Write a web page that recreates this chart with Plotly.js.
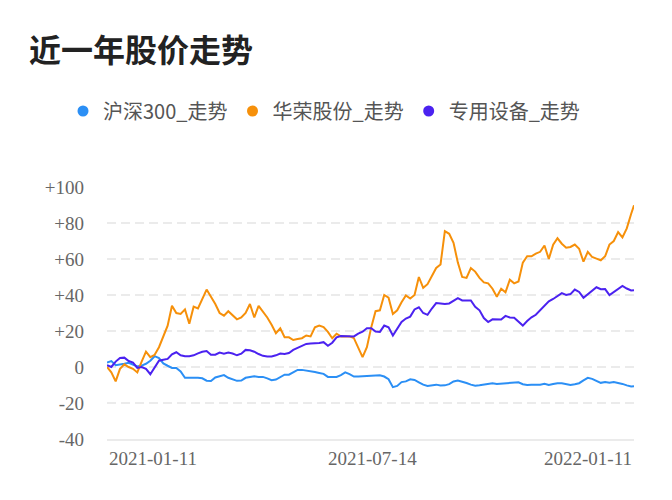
<!DOCTYPE html>
<html>
<head>
<meta charset="utf-8">
<script src="https://cdn.plot.ly/plotly-3.0.1.min.js"></script>
<style>
  html, body { margin: 0; padding: 0; background: #fff; }
  #chart { width: 672px; height: 500px; }
</style>
</head>
<body>
<div id="chart"></div>
<script>
// 近一年股价走势 - cumulative change (%) vs first day
const dates = [
  '2021-01-11','2021-01-14','2021-01-17','2021-01-20','2021-01-23','2021-01-26','2021-01-29','2021-02-01',
  '2021-02-04','2021-02-07','2021-02-10','2021-02-13','2021-02-16','2021-02-19','2021-02-22','2021-02-25',
  '2021-02-28','2021-03-03','2021-03-06','2021-03-09','2021-03-12','2021-03-15','2021-03-18','2021-03-21',
  '2021-03-24','2021-03-27','2021-03-30','2021-04-02','2021-04-05','2021-04-08','2021-04-11','2021-04-14',
  '2021-04-17','2021-04-20','2021-04-23','2021-04-26','2021-04-29','2021-05-02','2021-05-05','2021-05-08',
  '2021-05-11','2021-05-14','2021-05-17','2021-05-20','2021-05-23','2021-05-26','2021-05-29','2021-06-01',
  '2021-06-04','2021-06-07','2021-06-10','2021-06-13','2021-06-16','2021-06-19','2021-06-22','2021-06-25',
  '2021-06-28','2021-07-01','2021-07-04','2021-07-07','2021-07-10','2021-07-13','2021-07-16','2021-07-19',
  '2021-07-22','2021-07-25','2021-07-28','2021-07-31','2021-08-03','2021-08-06','2021-08-09','2021-08-12',
  '2021-08-15','2021-08-18','2021-08-21','2021-08-24','2021-08-27','2021-08-30','2021-09-02','2021-09-05',
  '2021-09-08','2021-09-11','2021-09-14','2021-09-17','2021-09-20','2021-09-23','2021-09-26','2021-09-29',
  '2021-10-02','2021-10-05','2021-10-08','2021-10-11','2021-10-14','2021-10-17','2021-10-20','2021-10-23',
  '2021-10-26','2021-10-29','2021-11-01','2021-11-04','2021-11-07','2021-11-10','2021-11-13','2021-11-16',
  '2021-11-19','2021-11-22','2021-11-25','2021-11-28','2021-12-01','2021-12-04','2021-12-07','2021-12-10',
  '2021-12-13','2021-12-16','2021-12-19','2021-12-22','2021-12-25','2021-12-28','2021-12-31','2022-01-03',
  '2022-01-06','2022-01-09','2022-01-11'
];

const hs300 = [
  2.5, 3.3, 1, 1.2, 1.8, 2.3, 1.4, 0.3, 0.8, 1.8, 3.5, 6, 5, 2, 0.7, -0.5,
  -0.5, -2.5, -6, -6.2, -6, -6, -6.3, -7.6, -7.8, -5.8, -5.3, -4.5, -6, -7, -7.7, -7.5,
  -6, -5.6, -5.2, -5.5, -5.5, -6.3, -7.3, -7, -5.5, -4.3, -4.3, -3, -1.6, -1.6, -1.9, -2.6,
  -2.8, -3.3, -3.8, -5.5, -5.3, -5.5, -4.5, -3, -4, -5.3, -5.3, -5.2, -4.8, -5, -5, -4.6,
  -5.3, -6.8, -11.2, -10.5, -8.4, -8, -6.8, -7.2, -8.5, -9.8, -10.5, -10, -9.8, -10.3, -10.2, -9.5,
  -8, -7.5, -8, -8.9, -9.8, -10.4, -10.1, -9.6, -9.3, -9, -9.4, -9.2, -9, -8.9, -8.3, -8.5,
  -9.6, -10, -9.8, -10, -9.8, -9.3, -10, -9.5, -9, -9, -9.5, -10, -9.6, -9, -7.4, -6,
  -6.6, -7.5, -8.8, -8.4, -8.8, -8.4, -8.8, -9.4, -10.2, -10.8, -10.7
];

const huarong = [
  0, -3, -8, -1, 1.5, 0, -1, -3, 3, 8.5, 5.5, 6.8, 11, 17.5, 23, 34,
  30, 29.5, 32, 24, 33.5, 32.5, 38, 43, 39, 35, 30, 28.5, 31, 29, 26.5, 27.5,
  30, 35, 27.5, 34, 31, 27.5, 23.5, 18.8, 21.5, 16.5, 16.5, 15, 15.5, 16, 17.5, 17,
  22, 23, 22.2, 19.5, 16, 18.5, 17, 17, 17, 16, 10.5, 5.5, 11, 22, 31, 31.5,
  40, 38.5, 29.5, 31.5, 36, 39.8, 38, 40, 50, 44, 46, 50.5, 55, 57, 75.5, 74,
  69, 58, 50, 49.5, 55, 53, 49.5, 47, 46.5, 43.5, 39, 43.5, 41.5, 48.5, 46.5, 47.5,
  58, 61.5, 61.5, 63, 64, 67.5, 60, 68, 71.5, 68.5, 66.3, 66.7, 68, 65.7, 58.5, 64,
  61.1, 60.2, 59.3, 61.5, 68, 70, 75, 72, 77, 85, 89.8
];

const equipment = [
  1, 0, 3, 5, 5.2, 3.3, 2.5, -0.5, 0, -1, -4, -0.5, 3.5, 4, 4.5, 7,
  8.2, 6.5, 6, 6, 6.5, 7.6, 8.5, 8.9, 6.8, 6.8, 8, 7.4, 8, 7.5, 6.5, 7.4,
  9.5, 9.3, 8.5, 7.2, 6.2, 5.8, 5.8, 6.5, 7.5, 7.2, 7.8, 9.5, 10.5, 11.5, 12.8, 13,
  13, 13.3, 13.8, 11.8, 13.5, 16.5, 17.2, 17.2, 16.8, 17, 18.5, 19.6, 21.5, 21.5, 19.7, 19.5,
  23, 22, 17.5, 21, 25, 26.9, 28, 32, 33.2, 30, 29, 32.5, 35.5, 35.3, 35, 35.3,
  37, 38.3, 37, 36.8, 37, 33.5, 31.5, 27.2, 25, 26.5, 26.5, 26.4, 28.4, 27.5, 27.4, 25,
  23, 25.5, 27.6, 29, 31.5, 34, 36.5, 37.8, 39.6, 41, 40, 40.5, 43, 41.7, 38.5, 40.5,
  42, 44.3, 43.2, 43.3, 40, 41.8, 43.3, 45, 43.6, 42.5, 42.6
];

const seriesNames = ['沪深300_走势', '华荣股份_走势', '专用设备_走势'];
const seriesColors = ['#2b8ff5', '#f6900a', '#4b22f0'];
const seriesValues = [hs300, huarong, equipment];

const yTickVals = [-40, -20, 0, 20, 40, 60, 80, 100];
const yTickText = ['-40', '-20', '0', '+20', '+40', '+60', '+80', '+100'];
const xLabelDates = ['2021-01-11', '2021-07-14', '2022-01-11'];
const xLabelAnchors = ['left', 'center', 'right'];

const tickFont = { family: "'Liberation Serif', 'DejaVu Serif', serif", size: 19, color: '#666' };
const cjkFont = "'Noto Sans CJK SC', 'Noto Sans', sans-serif";

const traces = [];
// the lines themselves
seriesValues.forEach((vals, i) => {
    traces.push({
        x: dates,
        y: vals,
        type: 'scatter',
        mode: 'lines',
        line: { color: seriesColors[i], width: 2 },
        showlegend: false,
        hoverinfo: 'skip'
    });
});
// dot-style legend entries
seriesNames.forEach((name, i) => {
    traces.push({
        x: [null],
        y: [null],
        type: 'scatter',
        mode: 'markers',
        name: name,
        marker: { color: seriesColors[i], size: 11 },
        showlegend: true
    });
});

const layout = {
    width: 672,
    height: 500,
    paper_bgcolor: '#fff',
    plot_bgcolor: '#fff',
    margin: { l: 107, r: 38, t: 187, b: 61 },
    title: {
        text: '近一年股价走势',
        font: { family: cjkFont, size: 32, color: '#222', weight: 'bold' },
        xref: 'container', x: 29 / 672, xanchor: 'left',
        yref: 'container', y: 1 - 51 / 500, yanchor: 'middle'
    },
    showlegend: true,
    legend: {
        orientation: 'h',
        xref: 'container', x: 0.5 - 12 / 672, xanchor: 'center',
        yref: 'container', y: 1 - 111 / 500, yanchor: 'middle',
        font: { family: cjkFont, size: 20, color: '#555' },
        itemwidth: 30,
        bgcolor: 'rgba(0,0,0,0)'
    },
    xaxis: {
        type: 'date',
        range: ['2021-01-11', '2022-01-11'],
        showticklabels: false,
        ticks: '',
        showgrid: false,
        zeroline: false,
        showline: true,
        linecolor: '#ebebeb',
        linewidth: 2
    },
    yaxis: {
        range: [-40, 100],
        tickvals: yTickVals,
        ticktext: yTickText,
        tickfont: tickFont,
        ticklabelstandoff: 22,
        showgrid: true,
        gridcolor: '#ebebeb',
        gridwidth: 2,
        griddash: '9px,5px',
        zeroline: false,
        showline: false
    },
    annotations: xLabelDates.map((d, i) => ({
        text: d,
        x: d,
        xref: 'x',
        y: 0,
        yref: 'paper',
        xanchor: xLabelAnchors[i],
        yanchor: 'middle',
        yshift: -19,
        showarrow: false,
        font: tickFont
    }))
};

Plotly.newPlot('chart', traces, layout, { staticPlot: true, displayModeBar: false });
</script>
</body>
</html>
